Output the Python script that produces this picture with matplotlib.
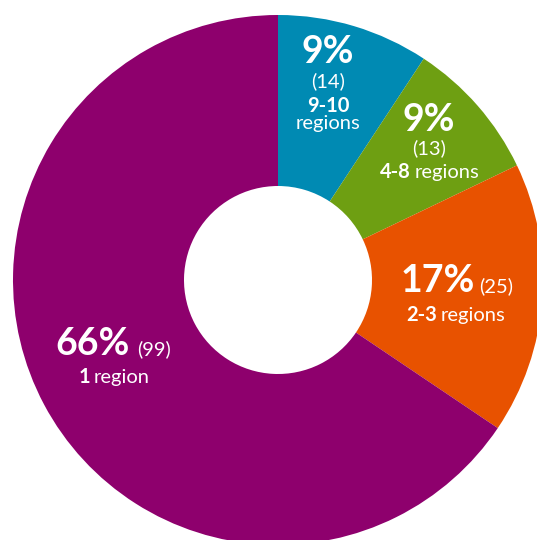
import matplotlib.pyplot as plt

# donut data, clockwise from the top
counts = [14, 13, 25, 99]
percents = ['9%', '9%', '17%', '66%']
groups = ['9-10', '4-8', '2-3', '1']
words = ['regions', 'regions', 'regions', 'region']
colors = ['#008AB3', '#6E9F12', '#E85200', '#8E006D']

W, H = 537, 540
fig = plt.figure(figsize=(W / 100, H / 100), dpi=100)
ax = fig.add_axes([0, 0, 1, 1])

cx, cy, r_out, r_in = 278, 280, 265, 94

# y axis is inverted, so counterclock=True draws clockwise on screen
ax.pie(counts, colors=colors, startangle=-90, counterclock=True,
       center=(cx, cy), radius=r_out, frame=True,
       wedgeprops=dict(width=r_out - r_in, linewidth=0))
ax.set_xlim(0, W)
ax.set_ylim(H, 0)
ax.set_aspect('equal')
ax.axis('off')

FONT = 'Lato'
BIG = 27
SMALL = 14.5
renderer = fig.canvas.get_renderer()


def line(xc, y, parts, gap=4):
    """Draw text pieces side by side on one baseline, centred on xc."""
    texts = [ax.text(0, y, s, fontsize=fs, fontweight=fw, family=FONT,
                     color='white', ha='left', va='baseline')
             for s, fs, fw in parts]
    widths = [t.get_window_extent(renderer).width for t in texts]
    x = xc - (sum(widths) + gap * (len(widths) - 1)) / 2
    for t, w in zip(texts, widths):
        t.set_x(x)
        x += w + gap


# blue wedge
line(328, 63, [(percents[0], BIG, 'bold')])
line(328, 87, [(f'({counts[0]})', SMALL, 'normal')])
line(328, 112, [(groups[0], SMALL, 'bold')])
line(328, 129, [(words[0], SMALL, 'normal')])

# green wedge
line(429, 131, [(percents[1], BIG, 'bold')])
line(429, 154, [(f'({counts[1]})', SMALL, 'normal')])
line(430, 178, [(groups[1], SMALL, 'bold'), (words[1], SMALL, 'normal')])

# orange wedge
line(457, 292, [(percents[2], BIG, 'bold'), (f'({counts[2]})', SMALL, 'normal')])
line(456, 321, [(groups[2], SMALL, 'bold'), (words[2], SMALL, 'normal')])

# purple wedge
line(113, 355, [(percents[3], BIG, 'bold'), (f'({counts[3]})', SMALL, 'normal')], gap=7)
line(114, 383, [(groups[3], SMALL, 'bold'), (words[3], SMALL, 'normal')])

fig.savefig('out.png', dpi=100)
